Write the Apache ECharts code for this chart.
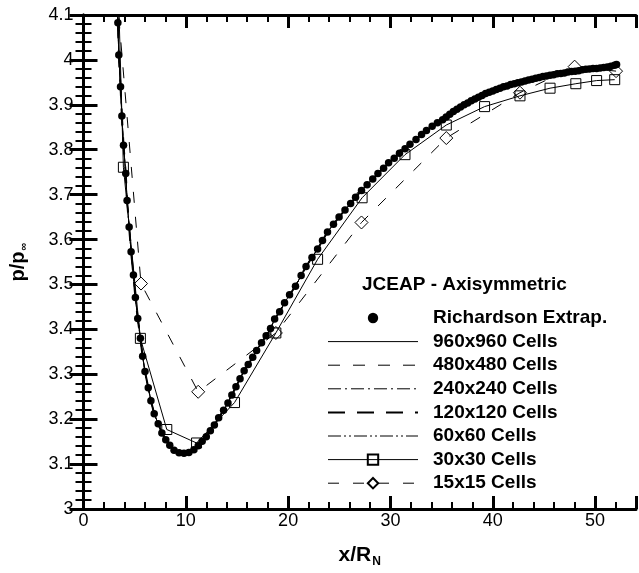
<!DOCTYPE html>
<html>
<head>
<meta charset="utf-8">
<script src="https://cdn.jsdelivr.net/npm/echarts@6/dist/echarts.min.js"></script>
<style>
  html, body { margin: 0; padding: 0; background: #fff; }
  #chart { width: 639px; height: 573px; }
</style>
</head>
<body>
<div id="chart"></div>
<script>
// values as [x/R_N, p/p_inf]
var richardson = [
  [3.36, 4.083], [3.45, 4.011], [3.62, 3.940], [3.75, 3.875], [3.91, 3.810], [4.13, 3.747],
  [4.26, 3.687], [4.46, 3.628], [4.65, 3.573], [4.88, 3.521], [5.07, 3.471], [5.30, 3.424],
  [5.56, 3.380], [5.78, 3.340], [6.01, 3.306], [6.33, 3.270], [6.59, 3.241], [6.91, 3.212],
  [7.30, 3.190], [7.66, 3.169], [8.04, 3.154], [8.43, 3.142], [8.85, 3.131], [9.34, 3.125],
  [9.82, 3.124], [10.30, 3.126], [10.79, 3.132], [11.21, 3.141], [11.60, 3.151], [12.00, 3.161],
  [12.40, 3.174], [12.79, 3.187], [13.21, 3.203], [13.69, 3.220], [14.12, 3.236], [14.50, 3.254],
  [14.90, 3.272], [15.30, 3.290], [15.70, 3.308], [16.10, 3.322], [16.54, 3.338], [16.92, 3.353],
  [17.40, 3.370], [17.85, 3.386], [18.28, 3.402], [18.68, 3.423], [19.17, 3.439], [19.65, 3.459],
  [20.14, 3.477], [20.72, 3.496], [21.27, 3.520], [21.75, 3.540], [22.33, 3.560], [22.88, 3.579],
  [23.36, 3.598], [23.85, 3.617], [24.43, 3.634], [24.98, 3.650], [25.56, 3.666], [26.11, 3.680],
  [26.59, 3.694], [27.17, 3.709], [27.72, 3.722], [28.27, 3.735], [28.78, 3.747], [29.33, 3.759],
  [29.82, 3.771], [30.37, 3.781], [30.88, 3.792], [31.43, 3.802], [31.91, 3.812], [32.50, 3.823],
  [33.04, 3.834], [33.52, 3.843], [34.08, 3.852], [34.59, 3.860], [35.10, 3.867], [35.45, 3.873],
  [35.80, 3.879], [36.15, 3.885], [36.50, 3.890], [36.85, 3.895], [37.20, 3.900], [37.55, 3.904],
  [37.90, 3.909], [38.25, 3.913], [38.60, 3.917], [38.95, 3.921], [39.30, 3.925], [39.65, 3.928],
  [40.00, 3.931], [40.35, 3.934], [40.70, 3.937], [41.05, 3.940], [41.40, 3.942], [41.75, 3.945],
  [42.10, 3.947], [42.45, 3.949], [42.80, 3.951], [43.15, 3.953], [43.50, 3.955], [43.85, 3.957],
  [44.20, 3.959], [44.55, 3.961], [44.90, 3.963], [45.25, 3.964], [45.60, 3.966], [45.95, 3.967],
  [46.30, 3.969], [46.65, 3.970], [47.00, 3.971], [47.35, 3.973], [47.70, 3.974], [48.05, 3.975],
  [48.40, 3.976], [48.75, 3.978], [49.10, 3.979], [49.45, 3.980], [49.80, 3.981], [50.15, 3.981],
  [50.50, 3.982], [50.85, 3.983], [51.20, 3.984], [51.55, 3.986], [51.90, 3.988], [52.10, 3.990]
];

// 960..60 cell solutions lie on the extrapolated curve (start is above the frame)
var fineGrid = [[3.28, 4.15]].concat(richardson);

var grid30 = [
  [3.35, 4.20], [3.90, 3.761], [5.56, 3.380], [8.14, 3.177], [11.05, 3.147], [14.76, 3.237],
  [18.80, 3.392], [22.88, 3.556], [27.23, 3.693], [31.42, 3.789], [35.46, 3.855], [39.20, 3.896],
  [42.66, 3.920], [45.60, 3.937], [48.12, 3.947], [50.15, 3.954], [51.92, 3.956]
];

var grid15 = [
  [3.25, 4.15], [5.62, 3.502], [11.21, 3.261], [18.80, 3.392], [27.17, 3.638], [35.46, 3.826],
  [42.66, 3.927], [48.00, 3.985], [52.05, 3.975]
];

var fineNames = ['960x960 Cells', '480x480 Cells', '240x240 Cells', '120x120 Cells', '60x60 Cells'];
var fineDash = ['solid', [12, 13], [13, 4, 2, 4], [17, 12], [13, 3, 2, 3, 2, 3]];
var fineWidth = [1, 1, 1, 2, 1];

var font = "'Liberation Sans', Arial, sans-serif";
var chart = echarts.init(document.getElementById('chart'));

function xAxisPart(pos, step, len, width, labels) {
  return {
    type: 'value', position: pos, min: 0, max: 54, interval: step,
    axisLine: { show: step === 2, lineStyle: { color: '#000', width: 3 } },
    axisTick: { inside: true, length: len, lineStyle: { color: '#000', width: width } },
    axisLabel: {
      show: labels, margin: 3, fontSize: 18, fontFamily: font, color: '#000',
      formatter: function (v) { return v % 10 === 0 ? String(v) : ''; }
    },
    splitLine: { show: false }
  };
}

function yAxisPart(pos, labels) {
  return {
    type: 'value', position: pos, min: 3, max: 4.1, interval: 0.1,
    axisLine: { show: true, lineStyle: { color: '#000', width: 3 } },
    axisTick: { inside: true, length: 14, lineStyle: { color: '#000', width: 3 } },
    minorTick: { show: true, splitNumber: 5, length: 8, lineStyle: { color: '#000', width: 2 } },
    axisLabel: { show: labels, margin: 10, fontSize: 18, fontFamily: font, color: '#000' },
    splitLine: { show: false }
  };
}

var xAxes = [
  xAxisPart('bottom', 2, 7, 2, true),
  xAxisPart('bottom', 10, 13, 3, false),
  xAxisPart('top', 2, 7, 2, false),
  xAxisPart('top', 10, 13, 3, false)
];
xAxes[0].name = '{a|x/R}{b|N}';
xAxes[0].nameLocation = 'middle';
xAxes[0].nameGap = 33;
xAxes[0].nameTextStyle = {
  color: '#000', fontFamily: font,
  rich: {
    a: { fontSize: 21, fontWeight: 'bold', fontFamily: font, color: '#000' },
    b: { fontSize: 12, fontWeight: 'bold', fontFamily: font, color: '#000', padding: [14, 0, 0, 1] }
  }
};

var yAxes = [yAxisPart('left', true), yAxisPart('right', false)];
yAxes[0].name = '{a|p/p}{b|\u221e}';
yAxes[0].nameLocation = 'middle';
yAxes[0].nameRotate = 90;
yAxes[0].nameGap = 54;
yAxes[0].nameTextStyle = {
  color: '#000', fontFamily: font,
  rich: {
    a: { fontSize: 20, fontWeight: 'bold', fontFamily: font, color: '#000' },
    b: { fontSize: 11, fontWeight: 'bold', fontFamily: font, color: '#000', padding: [12, 0, 0, 1] }
  }
};

var series = [{
  name: 'Richardson Extrap.', type: 'line', data: richardson,
  symbol: 'circle', symbolSize: 7.5, showSymbol: true,
  lineStyle: { width: 0 }, itemStyle: { color: '#000' }, z: 5
}];
fineNames.forEach(function (n, i) {
  series.push({
    name: n, type: 'line', data: fineGrid, symbol: 'none',
    lineStyle: { color: '#000', width: fineWidth[i], type: fineDash[i] },
    itemStyle: { color: '#000' }
  });
});
series.push({
  name: '30x30 Cells', type: 'line', data: grid30,
  symbol: 'rect', symbolSize: 10, showSymbol: true,
  lineStyle: { color: '#000', width: 1 },
  itemStyle: { color: 'transparent', borderColor: '#000', borderWidth: 1 }, z: 6
});
series.push({
  name: '15x15 Cells', type: 'line', data: grid15,
  symbol: 'diamond', symbolSize: 13, showSymbol: true,
  lineStyle: { color: '#000', width: 1, type: [11, 14] },
  itemStyle: { color: 'transparent', borderColor: '#000', borderWidth: 1 }, z: 6
});

var legendData = [{ name: 'Richardson Extrap.', lineStyle: { width: 0 } }];
fineNames.forEach(function (n, i) {
  legendData.push({ name: n, itemStyle: { opacity: 0 }, lineStyle: { width: fineWidth[i] } });
});
legendData.push({ name: '30x30 Cells' });
legendData.push({ name: '15x15 Cells' });

chart.setOption({
  animation: false,
  backgroundColor: '#fff',
  title: {
    text: 'JCEAP - Axisymmetric', left: 362, top: 275, padding: 0,
    textStyle: { fontSize: 19, fontWeight: 'bold', fontFamily: font, color: '#000' }
  },
  legend: {
    orient: 'vertical', left: 327, top: 308.5, padding: 0,
    itemWidth: 90, itemHeight: 13, itemGap: 4.6,
    selectedMode: false,
    lineStyle: { width: 1 },
    textStyle: { fontSize: 19, fontWeight: 'bold', fontFamily: font, color: '#000', padding: [0, 0, 0, 10] },
    data: legendData
  },
  grid: { left: 82, top: 15, width: 558, height: 509, containLabel: false },
  xAxis: xAxes,
  yAxis: yAxes,
  series: series
});
</script>
</body>
</html>
